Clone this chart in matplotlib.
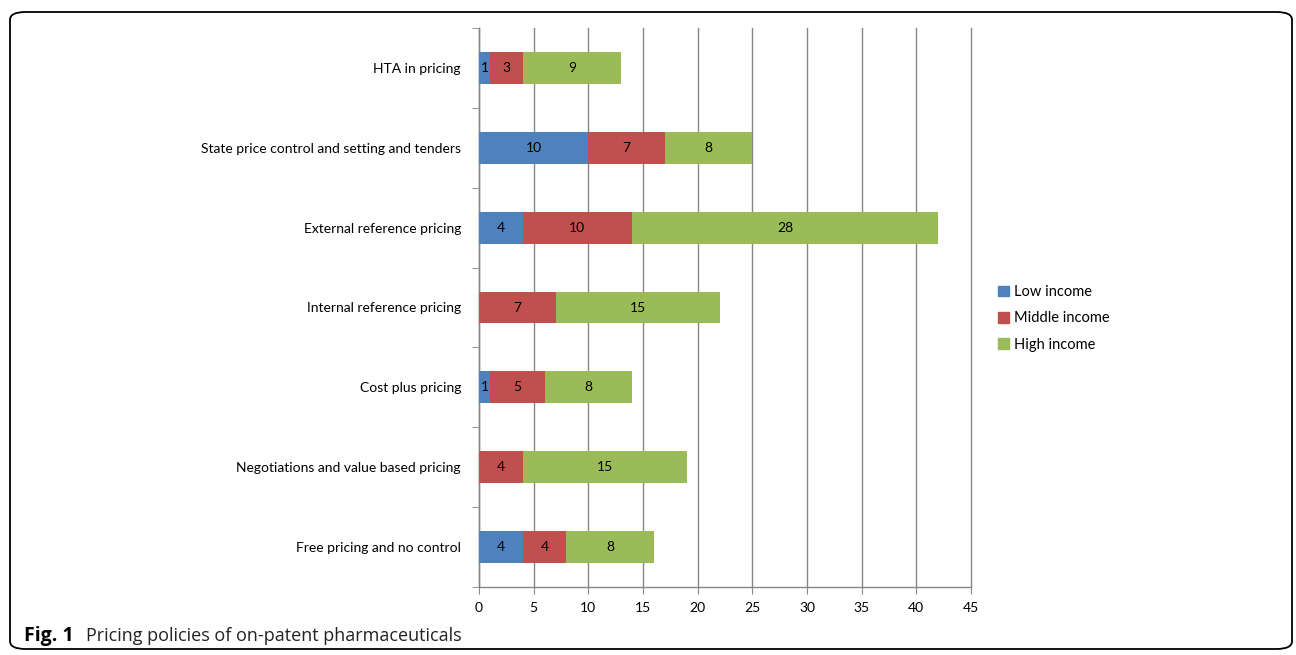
import matplotlib
matplotlib.use("Agg")
import matplotlib.pyplot as plt
from matplotlib.patches import FancyBboxPatch, Patch
import numpy as np

categories = ["HTA in pricing", "State price control and setting and tenders",
              "External reference pricing", "Internal reference pricing",
              "Cost plus pricing", "Negotiations and value based pricing",
              "Free pricing and no control"]
low = [1, 10, 4, 0, 1, 0, 4]
middle = [3, 7, 10, 7, 5, 4, 4]
high = [9, 8, 28, 15, 8, 15, 8]
series_names = ["Low income", "Middle income", "High income"]
colors = ["#4F81BD", "#C0504D", "#9BBB59"]
xticks = list(range(0, 50, 5))

plt.rcParams['font.family'] = ['Lato', 'DejaVu Sans']

fig = plt.figure(figsize=(12.96, 6.55), dpi=100)
ax = fig.add_axes([479/1296, 1-587/655, (971-479)/1296, (587-28)/655])

n = len(categories)
y = np.arange(n)[::-1]  # top category at top
left = np.zeros(n)
for vals, col, name in zip([low, middle, high], colors, series_names):
    vals = np.array(vals, dtype=float)
    ax.barh(y, vals, left=left, height=0.4, color=col, label=name, zorder=3,
            edgecolor='none')
    for yi, l, v in zip(y, left, vals):
        if v > 0:
            ax.text(l + v/2, yi, f"{int(v)}", ha='center', va='center',
                    fontsize=10, color='black', zorder=4)
    left += vals

ax.set_xlim(0, 45)
ax.set_ylim(-0.5, n - 0.5)
ax.set_xticks(xticks)
ax.set_xticklabels([str(t) for t in xticks], fontsize=10)
ax.set_yticks(y)
ax.set_yticklabels(categories, fontsize=10)
ax.set_yticks(np.arange(-0.5, n, 1.0), minor=True)
ax.tick_params(axis='y', which='major', length=0, pad=13)
ax.tick_params(axis='y', which='minor', length=5, color='#868686', direction='out')
ax.tick_params(axis='x', which='major', length=5, color='#868686', direction='out', pad=6)
ax.xaxis.grid(True, color='#868686', linewidth=1, zorder=0, clip_on=False)
ax.set_axisbelow(True)
for s in ['top', 'right']:
    ax.spines[s].set_visible(False)
for s in ['left', 'bottom']:
    ax.spines[s].set_color('#868686')
    ax.spines[s].set_linewidth(1)

handles = [Patch(color=c, label=nm) for c, nm in zip(colors, series_names)]
fig.legend(handles=handles, loc='upper left', bbox_to_anchor=(998/1296, 1-285/655),
           frameon=False, fontsize=10.5, handlelength=0.75, handleheight=0.75,
           handletextpad=0.35, labelspacing=0.85, borderpad=0, borderaxespad=0)

border = FancyBboxPatch((10/1296, 6/655), 1282/1296, 637/655,
                        boxstyle="round,pad=0,rounding_size=0.012",
                        transform=fig.transFigure, fill=False,
                        edgecolor='black', linewidth=1.3)
fig.add_artist(border)

fig.text(24/1296, 1-636/655, "Fig. 1", fontsize=14, fontweight='bold',
         family=['Open Sans', 'DejaVu Sans'], va='center', ha='left')
fig.text(86/1296, 1-636/655, "Pricing policies of on-patent pharmaceuticals",
         fontsize=13, family=['Open Sans', 'DejaVu Sans'], va='center', ha='left',
         color='#222222')

fig.savefig("out.png", dpi=100)
